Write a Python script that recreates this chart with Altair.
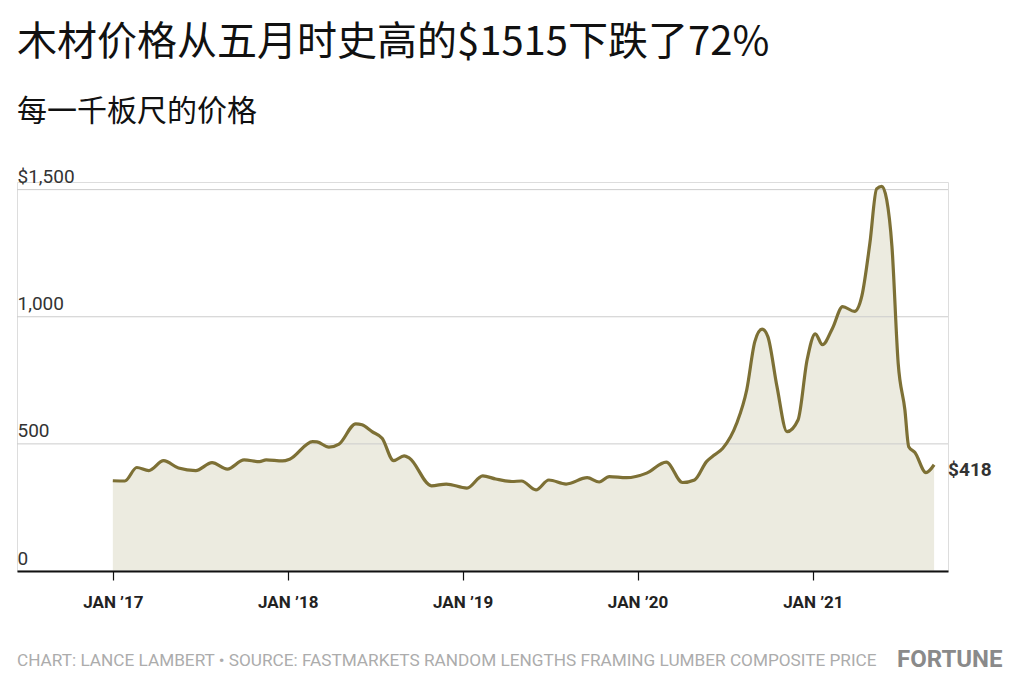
import altair as alt
import pandas as pd

title_text = "木材价格从五月时史高的$1515下跌了72%"
subtitle_text = "每一千板尺的价格"
footer_text = "CHART: LANCE LAMBERT • SOURCE: FASTMARKETS RANDOM LENGTHS FRAMING LUMBER COMPOSITE PRICE"
brand_text = "FORTUNE"
end_label = "$418"

dates = [
    "2017-01-01", "2017-01-26", "2017-02-20", "2017-03-17", "2017-04-17", "2017-05-18",
    "2017-06-23", "2017-07-27", "2017-08-28", "2017-10-02", "2017-11-03", "2017-11-17",
    "2017-12-21", "2018-01-05", "2018-02-22", "2018-03-03", "2018-03-28", "2018-04-18",
    "2018-05-23", "2018-06-05", "2018-06-26", "2018-07-17", "2018-08-10", "2018-09-01",
    "2018-09-12", "2018-10-28", "2018-11-28", "2019-01-10", "2019-02-12", "2019-03-11",
    "2019-04-14", "2019-05-04", "2019-06-03", "2019-06-30", "2019-08-05", "2019-09-18",
    "2019-10-13", "2019-11-03", "2019-12-09", "2020-01-20", "2020-03-01", "2020-04-04",
    "2020-04-29", "2020-05-24", "2020-06-10", "2020-06-27", "2020-07-26", "2020-08-16",
    "2020-09-02", "2020-09-17", "2020-09-29", "2020-10-18", "2020-11-08", "2020-12-01",
    "2020-12-20", "2021-01-06", "2021-01-21", "2021-02-11", "2021-03-04", "2021-03-29",
    "2021-04-13", "2021-04-30", "2021-05-14", "2021-05-25", "2021-06-04", "2021-06-15",
    "2021-06-28", "2021-07-12", "2021-07-20", "2021-08-02", "2021-08-25", "2021-09-11",
]
prices = [
    355, 354, 407, 395, 434, 405,
    395, 426, 401, 437, 430, 437,
    433, 440, 509, 508, 487, 499,
    579, 575, 548, 522, 434, 453,
    444, 335, 342, 326, 374, 362,
    352, 354, 319, 358, 342, 367,
    350, 371, 367, 385, 428, 348,
    358, 430, 457, 483, 581, 713,
    903, 951, 922, 726, 548, 594,
    831, 933, 890, 955, 1040, 1021,
    1080, 1290, 1503, 1513, 1461, 1277,
    818, 634, 489, 466, 387, 418,
]
x_tick_years = [2017, 2018, 2019, 2020, 2021]
y_ticks = [0, 500, 1000, 1500]

df = pd.DataFrame({"date": dates, "price": prices})
last_df = df.tail(1).assign(label=end_label)
grid_df = pd.DataFrame({"v": y_ticks})
footer_df = pd.DataFrame({"t": [footer_text]})
brand_df = pd.DataFrame({"t": [brand_text]})

x_scale = alt.Scale(domain=[alt.DateTime(year=2016, month=6, date=15),
                            alt.DateTime(year=2021, month=10, date=10)])
y_scale = alt.Scale(domain=[0, 1530], nice=False)

x_enc = alt.X(
    "date:T", scale=x_scale, title=None,
    axis=alt.Axis(
        values=[alt.DateTime(year=yy, month=1, date=1) for yy in x_tick_years],
        labelExpr="'JAN \u2019' + timeFormat(datum.value, '%y')",
        grid=False, domainColor="#111111", domainWidth=2, tickColor="#111111",
        tickWidth=1.2, tickSize=9, labelPadding=14, labelFont="Roboto",
        labelFontWeight="bold", labelFontSize=17, labelColor="#222222", zindex=2,
    ),
)
y_enc = alt.Y(
    "price:Q", scale=y_scale, title=None,
    axis=alt.Axis(
        values=y_ticks, grid=False, domain=False, ticks=False, tickSize=0,
        labelAlign="left", labelPadding=0, labelBaseline="alphabetic", labelOffset=-7,
        labelExpr="datum.value == 1500 ? '$1,500' : format(datum.value, ',')",
        labelFont="Roboto", labelFontSize=19, labelColor="#333333",
    ),
)

base = alt.Chart(df)
area = base.mark_area(color="#ecebe0", interpolate="monotone").encode(x=x_enc, y=y_enc)
grid = alt.Chart(grid_df).mark_rule(color="#cccccc", strokeWidth=1).encode(
    y=alt.Y("v:Q", scale=y_scale), x=alt.value(0), x2=alt.value(931)
)
line = base.mark_line(color="#7d7035", strokeWidth=3.2, interpolate="monotone").encode(
    x="date:T", y="price:Q"
)
label = alt.Chart(last_df).mark_text(
    align="left", dx=14, dy=5, font="Roboto", fontWeight="bold", fontSize=19, color="#333333"
).encode(x="date:T", y="price:Q", text="label:N")
footer = alt.Chart(footer_df).mark_text(
    align="left", baseline="middle", font="Roboto", fontSize=17.2, color="#acacac"
).encode(x=alt.value(0), y=alt.value(479), text="t:N")
brand = alt.Chart(brand_df).mark_text(
    align="left", baseline="middle", font="Roboto", fontWeight="bold",
    fontSize=24, color="#8a8a8a"
).encode(x=alt.value(880), y=alt.value(478), text="t:N")

chart = alt.layer(area, grid, line, label, footer, brand).properties(
    width=931, height=389,
    autosize=alt.AutoSizeParams(type="none"),
    padding={"left": 9, "top": 174, "right": 68, "bottom": 110},
    title=alt.TitleParams(
        text=title_text, subtitle=subtitle_text, anchor="start", frame="group",
        font="Noto Sans CJK SC", fontSize=40, fontWeight="normal", color="#111111",
        subtitleFont="Noto Sans CJK SC", subtitleFontSize=30, subtitleColor="#111111",
        subtitlePadding=34, offset=41,
    ),
).configure_view(stroke=None).configure(background="white")

chart.save("out.html", embed_options={"renderer": "svg", "actions": False})
